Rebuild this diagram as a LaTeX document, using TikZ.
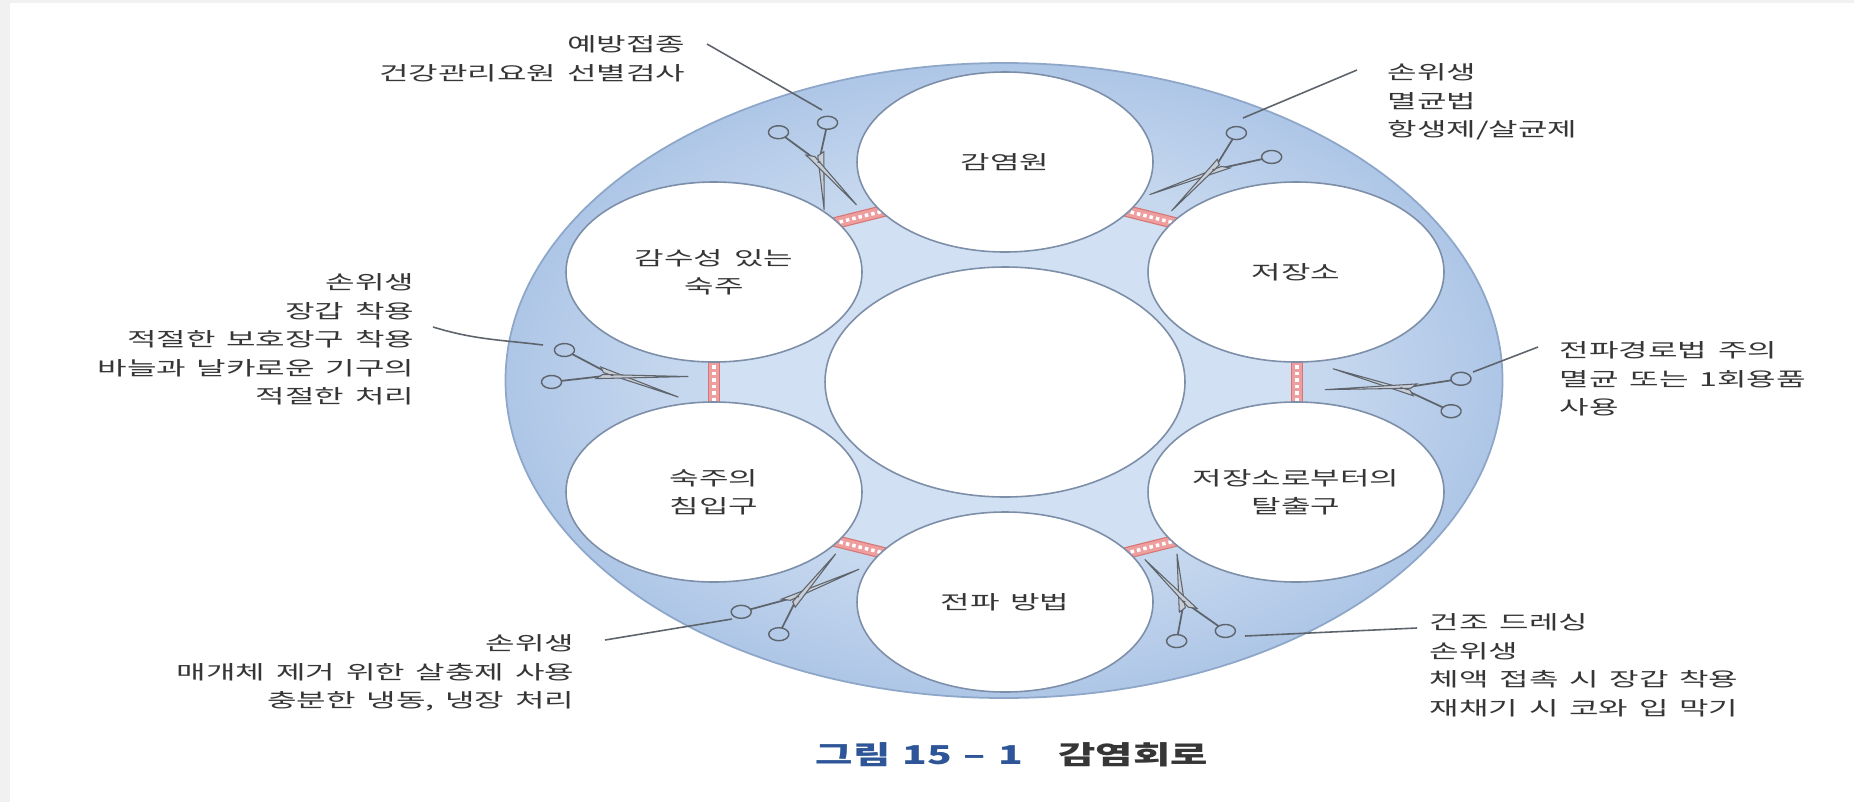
\documentclass[tikz,border=0pt]{standalone}
\usepackage{fontspec}
\newfontfamily\krfont[FakeStretch=1.66,WordSpace=1.5]{Noto Sans CJK KR}
\newfontfamily\capfont[FakeStretch=1.56,WordSpace=1.3]{Noto Sans CJK KR}
\usetikzlibrary{shapes.geometric,positioning,calc}

\definecolor{ringin}{HTML}{C6D8EE}
\definecolor{ringout}{HTML}{AEC6E7}
\definecolor{innerblue}{HTML}{D1E0F2}
\definecolor{circline}{HTML}{7D8EA8}
\definecolor{rimline}{HTML}{8EA6C8}
\definecolor{stripfill}{HTML}{EE9E9E}
\definecolor{stripline}{HTML}{D87474}
\definecolor{scisline}{HTML}{5E646C}
\definecolor{bladefill}{HTML}{C9CED6}
\definecolor{labgray}{HTML}{363636}
\definecolor{capblue}{HTML}{2D5597}
\definecolor{framegray}{HTML}{F1F1F1}
\pgfdeclareradialshading{ringfade}{\pgfpoint{0bp}{0bp}}{color(0bp)=(ringin); color(16bp)=(ringin); color(25bp)=(ringout); color(50bp)=(ringout)}

\begin{document}
\begin{tikzpicture}

\tikzset{sat/.style = {shape=ellipse,draw=circline,line width=0.45pt,fill=white,minimum width=2.96cm,minimum height=1.80cm,inner sep=0pt,align=center,font=\krfont\fontsize{5.5}{8.1}\selectfont,text=labgray}}
\tikzset{lbl/.style = {inner sep=0pt,font=\krfont\fontsize{5.5}{8.1}\selectfont,text=labgray}}
\tikzset{captext/.style = {inner sep=0pt,font=\capfont\bfseries\fontsize{7.4}{9}\selectfont}}
\tikzset{leader/.style = {draw=scisline,line width=0.45pt}}
\tikzset{stripbox/.style = {fill=stripfill,draw=stripline,line width=0.3pt}}
\tikzset{scissors/.pic = {
  \draw[scisline,line width=0.4pt] (0,0.165) circle (0.065) (0,-0.165) circle (0.065);
  \draw[scisline,line width=0.5pt] (0.055,0.14) -- (0.36,0) (0.055,-0.14) -- (0.36,0);
  \filldraw[fill=bladefill,draw=scisline,line width=0.3pt] (0.27,0.06) -- (0.83,-0.105) -- (0.30,0.01) -- cycle;
  \filldraw[fill=bladefill,draw=scisline,line width=0.3pt] (0.27,-0.06) -- (0.84,0.11) -- (0.30,-0.01) -- cycle;
  \fill[scisline] (0.36,0) circle (0.012);
}}

\useasboundingbox (0,0) rectangle (18.54,-8.02);
\fill[framegray] (0,0) rectangle (18.54,-8.02);
\fill[white] (0.10,-0.03) rectangle (18.54,-8.02);

\path[shading=ringfade] (10.04,-3.805) ellipse [x radius=4.985, y radius=3.175];
\draw[rimline,line width=0.5pt] (10.04,-3.805) ellipse [x radius=4.985, y radius=3.175];

\coordinate (sul) at (8.595,-2.17);
\coordinate (sur) at (11.505,-2.17);
\coordinate (sr) at (12.97,-3.82);
\coordinate (slr) at (11.505,-5.47);
\coordinate (sll) at (8.595,-5.47);
\coordinate (sl) at (7.14,-3.82);

\fill[innerblue] ($(sul)+(194:0.3)$) -- ($(sul)+(14:0.3)$) -- ($(sur)+(166:0.3)$) -- ($(sur)+(-14:0.3)$)
  -- ($(sr)+(0,0.22)$) -- ($(sr)+(0,-0.22)$) -- ($(slr)+(14:0.3)$) -- ($(slr)+(194:0.3)$)
  -- ($(sll)+(-14:0.3)$) -- ($(sll)+(166:0.3)$) -- ($(sl)+(0,-0.22)$) -- ($(sl)+(0,0.22)$) -- cycle;

\foreach \s/\a/\l in {sul/14/0.29, sur/-14/0.29, sr/90/0.21, slr/14/0.29, sll/-14/0.29, sl/90/0.21} {
  \begin{scope}[shift={(\s)}, rotate=\a]
    \filldraw[stripbox] (-\l,-0.055) rectangle (\l,0.055);
    \draw[white,line width=0.035cm,dash pattern=on 0.035cm off 0.03cm] (-\l+0.02,0) -- (\l-0.02,0);
  \end{scope}
}

\node[sat,minimum width=3.60cm,minimum height=2.30cm] (hub) at (10.05,-3.82) {};
\node[sat] (source) at (10.05,-1.62) {감염원};
\node[sat] (reservoir) at (12.96,-2.72) {저장소};
\node[sat] (exit) at (12.96,-4.92) {저장소로부터의\\탈출구};
\node[sat] (transmit) at (10.05,-6.02) {전파 방법};
\node[sat] (entry) at (7.14,-4.92) {숙주의\\침입구};
\node[sat] (host) at (7.14,-2.72) {감수성 있는\\숙주};

\foreach \x/\y/\a in {8.03/-1.275/-73.4, 12.54/-1.45/223.6, 5.58/-3.66/-14.6, 14.56/-3.95/168.9, 7.60/-6.23/47.3, 12.01/-6.36/107.9}
  \pic[shift={(\x,\y)}, xscale=1.55, rotate=\a] {scissors};

\node[lbl,anchor=north east,align=right] (prevent) at (6.86,-0.35) {예방접종\\건강관리요원 선별검사};
\node[lbl,anchor=north west,align=left] (srccare) at (13.87,-0.63) {손위생\\멸균법\\항생제/살균제};
\node[lbl,anchor=north east,align=right] (hostcare) at (4.15,-2.73) {손위생\\장갑 착용\\적절한 보호장구 착용\\바늘과 날카로운 기구의\\적절한 처리};
\node[lbl,anchor=north west,align=left] (rescare) at (15.59,-3.41) {전파경로법 주의\\멸균 또는 1회용품\\사용};
\node[lbl,anchor=north east,align=right] (entrycare) at (5.75,-6.34) {손위생\\매개체 제거 위한 살충제 사용\\충분한 냉동, 냉장 처리};
\node[lbl,anchor=north west,align=left] (exitcare) at (14.29,-6.13) {건조 드레싱\\손위생\\체액 접촉 시 장갑 착용\\재채기 시 코와 입 막기};

\coordinate (a1) at (7.07,-0.44);
\coordinate (b1) at (8.22,-1.10);
\coordinate (a2) at (13.57,-0.70);
\coordinate (b2) at (12.43,-1.18);
\coordinate (a3) at (4.33,-3.27);
\coordinate (b3) at (5.43,-3.45);
\coordinate (a4) at (15.38,-3.47);
\coordinate (b4) at (14.73,-3.72);
\coordinate (a5) at (6.05,-6.40);
\coordinate (b5) at (7.32,-6.19);
\coordinate (a6) at (14.17,-6.28);
\coordinate (b6) at (12.45,-6.36);

\draw[leader] (a1) -- (b1);
\draw[leader] (a2) -- (b2);
\draw[leader] (a3) to[out=-17,in=173] (b3);
\draw[leader] (a4) -- (b4);
\draw[leader] (a5) -- (b5);
\draw[leader] (a6) -- (b6);

\node[captext,text=capblue,anchor=west] (figno) at (8.15,-7.55) {그림 15 – 1};
\node[captext,text=labgray,base right=0.34cm of figno] (figtitle) {감염회로};

\end{tikzpicture}
\end{document}
